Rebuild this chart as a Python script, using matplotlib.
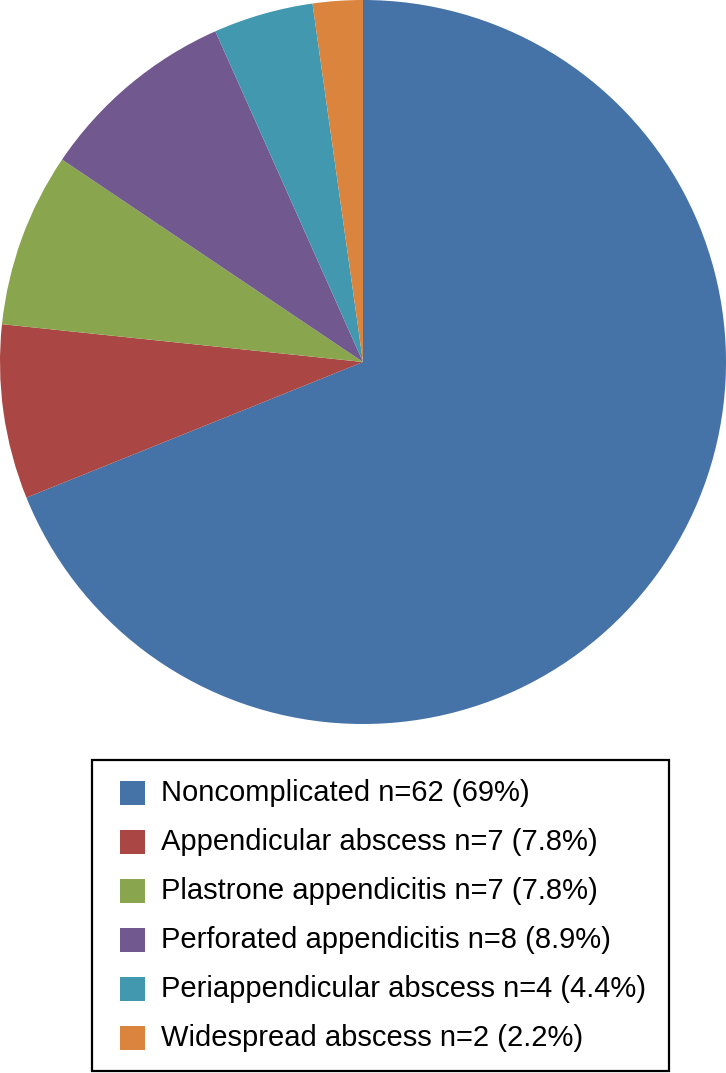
import matplotlib
matplotlib.use("Agg")
import matplotlib.pyplot as plt
from matplotlib.patches import Rectangle

categories = ["Noncomplicated", "Appendicular abscess", "Plastrone appendicitis",
              "Perforated appendicitis", "Periappendicular abscess", "Widespread abscess"]
counts = [62, 7, 7, 8, 4, 2]
percents = ["69%", "7.8%", "7.8%", "8.9%", "4.4%", "2.2%"]
colors = ["#4572A7", "#AA4643", "#89A54E", "#71588F", "#4198AF", "#DB843D"]

W, H = 726, 1073
fig = plt.figure(figsize=(W / 100, H / 100), dpi=100)

# pie occupies the top square
ax = fig.add_axes([0, (H - 724) / H, 1, 724 / H])
ax.pie(counts, colors=colors, startangle=90, counterclock=False, radius=1,
       wedgeprops=dict(edgecolor="none", linewidth=0))
ax.set_xlim(-1, 1)
ax.set_ylim(-1, 1)
ax.set_aspect("auto")
ax.axis("off")

# legend box drawn by hand (pixel coords from top)
def fx(px):
    return px / W

def fy(py):
    return 1 - py / H

box = Rectangle((fx(92), fy(1071)), fx(669) - fx(92), fy(760) - fy(1071),
                transform=fig.transFigure, fill=False, edgecolor="black", linewidth=1.6)
fig.patches.append(box)

for i, (cat, n, p, c) in enumerate(zip(categories, counts, percents, colors)):
    yc = 793 + i * 49
    sq = Rectangle((fx(120), fy(yc + 12)), fx(145) - fx(120), fy(yc - 12) - fy(yc + 12),
                   transform=fig.transFigure, facecolor=c, edgecolor="none")
    fig.patches.append(sq)
    fig.text(fx(161), fy(yc), f"{cat} n={n} ({p})", fontsize=21,
             family="Liberation Sans", va="center", ha="left", color="black")

fig.savefig("out.png", dpi=100)
